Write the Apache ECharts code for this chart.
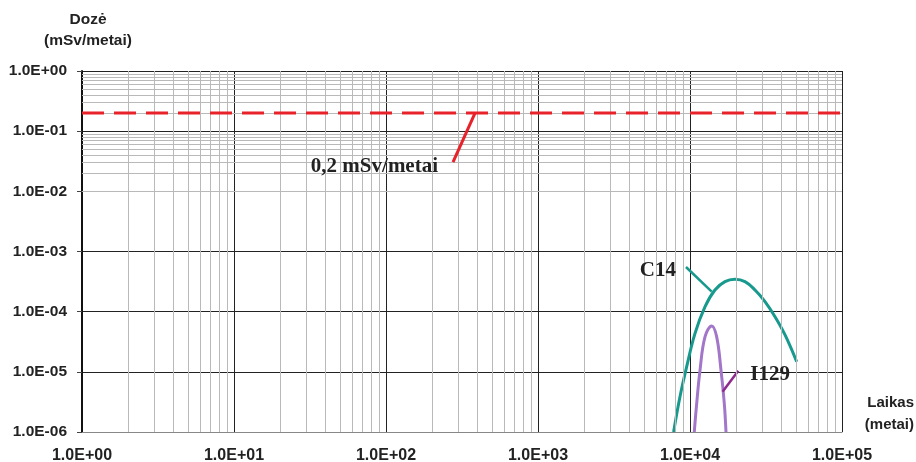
<!DOCTYPE html>
<html>
<head>
<meta charset="utf-8">
<script src="https://cdn.jsdelivr.net/npm/echarts@6/dist/echarts.min.js"></script>
<style>
html,body{margin:0;padding:0;background:#fff;}
#chart{width:916px;height:462px;}
</style>
</head>
<body>
<div id="chart"></div>
<script>
// ---- data ----
const xTickLabels = ['1.0E+00','1.0E+01','1.0E+02','1.0E+03','1.0E+04','1.0E+05'];
const yTickLabels = ['1.0E-06','1.0E-05','1.0E-04','1.0E-03','1.0E-02','1.0E-01','1.0E+00'];

const limitX = [1, 100000];
const limitY = [0.2, 0.2];

const c14X = [7800, 8590, 9510, 10790, 12560, 14590, 16980, 19760, 23000, 26770, 31150, 36250, 42200, 50340];
const c14Y = [1.0e-6, 3.86e-6, 1.22e-5, 4.36e-5, 1.21e-4, 2.29e-4, 3.15e-4, 3.45e-4, 3.15e-4, 2.29e-4, 1.47e-4, 8.24e-5, 4.10e-5, 1.47e-5];

const i129X = [10670, 11070, 11640, 12560, 13890, 14970, 15990, 16810, 17250];
const i129Y = [1.0e-6, 3.0e-6, 1.07e-5, 3.84e-5, 5.78e-5, 3.84e-5, 1.07e-5, 3.0e-6, 1.0e-6];

// annotation pointers [x, y]
const limitPointer = [[276, 0.0307], [385, 0.2]];
const c14Pointer = [[9410, 5.53e-4], [13890, 2.15e-4]];
const i129Pointer = [[16370, 4.68e-6], [20780, 1.045e-5]];

const labelLimit = '0,2 mSv/metai';
const labelC14 = 'C14';
const labelI129 = 'I129';

const yTitle = 'Dozė\n(mSv/metai)';
const xTitle = 'Laikas\n(metai)';

// minor grid positions (2..9 per decade)
const xMinor = [], yMinor = [];
for (let k = 0; k < 5; k++) for (let m = 2; m <= 9; m++) xMinor.push(m * Math.pow(10, k));
for (let k = -6; k < 0; k++) for (let m = 2; m <= 9; m++) yMinor.push(m * Math.pow(10, k));

const zip = (a, b) => a.map((v, i) => [v, b[i]]);

const chart = echarts.init(document.getElementById('chart'), null, {renderer: 'canvas'});

const axisFont = {fontFamily: 'Liberation Sans', fontWeight: 'bold', color: '#222'};
const serifFont = {fontFamily: 'Liberation Serif', fontWeight: 'bold', fontSize: 21, color: '#222'};

chart.setOption({
  animation: false,
  backgroundColor: '#fff',
  grid: {left: 82, right: 74, top: 71, bottom: 30, containLabel: false, outerBoundsMode: 'none'},
  xAxis: {
    type: 'log', logBase: 10, min: 1, max: 100000,
    axisLine: {show: true, onZero: false, lineStyle: {color: '#888', width: 1}},
    axisTick: {show: false},
    axisLabel: Object.assign({fontSize: 16, margin: 16,
      formatter: v => xTickLabels[Math.round(Math.log10(v))]}, axisFont),
    splitLine: {show: true, lineStyle: {color: '#222', width: 1}},
    minorTick: {show: false}, minorSplitLine: {show: false}
  },
  yAxis: {
    type: 'log', logBase: 10, min: 1e-6, max: 1,
    axisLine: {show: true, lineStyle: {color: '#111', width: 2}},
    axisTick: {show: true, inside: false, length: 5, lineStyle: {color: '#444', width: 1}},
    axisLabel: Object.assign({fontSize: 15.5, margin: 15,
      formatter: v => yTickLabels[Math.round(Math.log10(v)) + 6]}, axisFont),
    splitLine: {show: true, lineStyle: {color: '#222', width: 1}}
  },
  graphic: [
    {type: 'text', x: 88, y: 9, style: {text: yTitle, fontSize: 15.5, lineHeight: 21, textAlign: 'center', fontFamily: 'Liberation Sans', fontWeight: 'bold', fill: '#222'}},
    {type: 'text', right: 2, top: 392, style: {text: xTitle, fontSize: 15, lineHeight: 22, textAlign: 'right', fontFamily: 'Liberation Sans', fontWeight: 'bold', fill: '#222'}}
  ],
  series: [
    {
      type: 'line', data: [], z: 1, silent: true,
      markLine: {
        silent: true, symbol: 'none', animation: false,
        label: {show: false},
        lineStyle: {color: '#b9b9b9', width: 1, type: 'solid'},
        emphasis: {disabled: true},
        data: xMinor.map(v => ({xAxis: v})).concat(yMinor.map(v => ({yAxis: v})))
      }
    },
    {
      name: 'limit', type: 'line', z: 5, data: zip(limitX, limitY), showSymbol: false, symbol: 'none',
      lineStyle: {color: '#e8222a', width: 3, type: [22, 10]}, clip: false
    },
    {
      name: 'limitPtr', type: 'line', z: 5, data: limitPointer, symbol: 'none',
      lineStyle: {color: '#e8222a', width: 3},
      markPoint: {
        symbol: 'circle', symbolSize: 0,
        label: Object.assign({show: true, position: 'left', distance: 15, offset: [0, 5], formatter: labelLimit}, serifFont),
        data: [{coord: limitPointer[0]}]
      }
    },
    {
      name: 'C14', type: 'line', z: 4, data: zip(c14X, c14Y), smooth: 0.4, symbol: 'none',
      lineStyle: {color: '#17998d', width: 3}
    },
    {
      name: 'c14Ptr', type: 'line', z: 4, data: c14Pointer, symbol: 'none',
      lineStyle: {color: '#17998d', width: 2.5},
      markPoint: {
        symbol: 'circle', symbolSize: 0,
        label: Object.assign({show: true, position: 'left', distance: 10, offset: [0, 4], formatter: labelC14}, serifFont),
        data: [{coord: c14Pointer[0]}]
      }
    },
    {
      name: 'I129', type: 'line', z: 4, data: zip(i129X, i129Y), smooth: 0.4, symbol: 'none',
      lineStyle: {color: '#a276c9', width: 3}
    },
    {
      name: 'i129Ptr', type: 'line', z: 4, data: i129Pointer, symbol: 'none',
      lineStyle: {color: '#8e2a8c', width: 2.5},
      markPoint: {
        symbol: 'circle', symbolSize: 0,
        label: Object.assign({show: true, position: 'right', distance: 12, offset: [0, 4], formatter: labelI129}, serifFont),
        data: [{coord: i129Pointer[1]}]
      }
    }
  ]
});
</script>
</body>
</html>
